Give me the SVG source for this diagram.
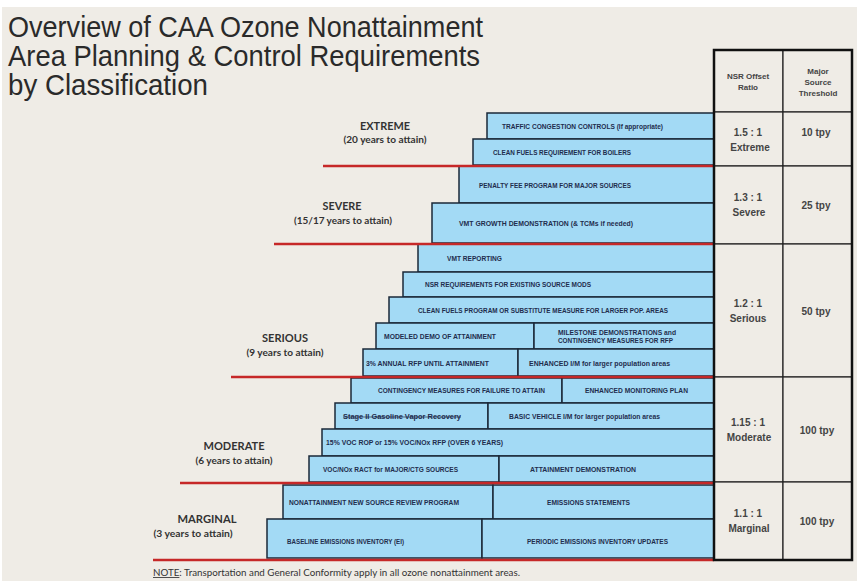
<svg xmlns="http://www.w3.org/2000/svg" width="857" height="581" viewBox="0 0 857 581">
<style>
.bg{fill:#efece6}
.blk{fill:#a3daf5;stroke:#1b2838;stroke-width:1.5}
.bt{font-family:"Liberation Sans",Arial,sans-serif;font-weight:bold;font-size:7px;fill:#1f2d4d}
.red{stroke:#c62828;stroke-width:2.5;fill:none}
.lab{font-family:Lato,"Liberation Sans",sans-serif;font-weight:bold;fill:#333;text-anchor:middle}
.l1{font-size:11px}
.l2{font-size:8.5px}
.title{font-family:"Liberation Sans",Arial,sans-serif;font-size:29px;fill:#2a2a2a}
.cell{fill:#efece6;stroke:#222;stroke-width:1.2}
.tt{font-family:"Liberation Sans",Arial,sans-serif;font-weight:bold;fill:#444;text-anchor:middle}
.th{font-size:8px}
.tv{font-size:10px}
.note{font-family:Lato,"Liberation Sans",sans-serif;font-size:8.5px;fill:#333}
</style>
<rect width="857" height="581" fill="#ffffff"/>
<rect class="bg" x="2" y="7" width="855" height="574"/>

<g id="title">
<text class="title" x="8" y="37" textLength="475" lengthAdjust="spacingAndGlyphs">Overview of CAA Ozone Nonattainment</text>
<text class="title" x="8" y="66" textLength="472" lengthAdjust="spacingAndGlyphs">Area Planning &amp; Control Requirements</text>
<text class="title" x="8" y="95" textLength="200" lengthAdjust="spacingAndGlyphs">by Classification</text>
</g>

<g id="label-extreme">
<text class="lab l1" x="385" y="130" textLength="50" lengthAdjust="spacingAndGlyphs">EXTREME</text>
<text class="lab l2" x="385" y="143" textLength="83" lengthAdjust="spacingAndGlyphs">(20 years to attain)</text>
</g>
<g id="label-severe">
<text class="lab l1" x="342" y="210" textLength="39" lengthAdjust="spacingAndGlyphs">SEVERE</text>
<text class="lab l2" x="343" y="224" textLength="98" lengthAdjust="spacingAndGlyphs">(15/17 years to attain)</text>
</g>
<g id="label-serious">
<text class="lab l1" x="285" y="342" textLength="46" lengthAdjust="spacingAndGlyphs">SERIOUS</text>
<text class="lab l2" x="285" y="356" textLength="77" lengthAdjust="spacingAndGlyphs">(9 years to attain)</text>
</g>
<g id="label-moderate">
<text class="lab l1" x="234" y="450" textLength="61" lengthAdjust="spacingAndGlyphs">MODERATE</text>
<text class="lab l2" x="234" y="464" textLength="77" lengthAdjust="spacingAndGlyphs">(6 years to attain)</text>
</g>
<g id="label-marginal">
<text class="lab l1" x="207" y="523" textLength="59" lengthAdjust="spacingAndGlyphs">MARGINAL</text>
<text class="lab l2" x="193" y="537" textLength="79" lengthAdjust="spacingAndGlyphs">(3 years to attain)</text>
</g>

<!-- Extreme -->
<g id="n-traffic">
<rect class="blk" x="487" y="113" width="227" height="26"/>
<text class="bt" x="502" y="128.5" textLength="161" lengthAdjust="spacingAndGlyphs">TRAFFIC CONGESTION CONTROLS (If appropriate)</text>
</g>
<g id="n-cleanfuels-boilers">
<rect class="blk" x="473" y="139" width="241" height="26"/>
<text class="bt" x="493" y="154.5" textLength="138" lengthAdjust="spacingAndGlyphs">CLEAN FUELS REQUIREMENT FOR BOILERS</text>
</g>
<!-- Severe -->
<g id="n-penalty">
<rect class="blk" x="459" y="166" width="255" height="37"/>
<text class="bt" x="479" y="187.5" textLength="152" lengthAdjust="spacingAndGlyphs">PENALTY FEE PROGRAM FOR MAJOR SOURCES</text>
</g>
<g id="n-vmt-growth">
<rect class="blk" x="432" y="203" width="282" height="40"/>
<text class="bt" x="459" y="225.5" textLength="174" lengthAdjust="spacingAndGlyphs">VMT GROWTH DEMONSTRATION (&amp; TCMs if needed)</text>
</g>
<!-- Serious -->
<g id="n-vmt-reporting">
<rect class="blk" x="418" y="244" width="296" height="28"/>
<text class="bt" x="447" y="260.5" textLength="55" lengthAdjust="spacingAndGlyphs">VMT REPORTING</text>
</g>
<g id="n-nsr-req">
<rect class="blk" x="403" y="272" width="311" height="25"/>
<text class="bt" x="425" y="286.5" textLength="166" lengthAdjust="spacingAndGlyphs">NSR REQUIREMENTS FOR EXISTING SOURCE MODS</text>
</g>
<g id="n-cleanfuels-program">
<rect class="blk" x="389" y="297" width="325" height="26"/>
<text class="bt" x="418" y="312.5" textLength="250" lengthAdjust="spacingAndGlyphs">CLEAN FUELS PROGRAM OR SUBSTITUTE MEASURE FOR LARGER POP. AREAS</text>
</g>
<g id="n-modeled-demo">
<rect class="blk" x="376" y="323" width="158" height="26"/>
<text class="bt" x="384" y="338.5" textLength="112" lengthAdjust="spacingAndGlyphs">MODELED DEMO OF ATTAINMENT</text>
</g>
<g id="n-milestone">
<rect class="blk" x="534" y="323" width="180" height="26"/>
<text class="bt" x="558" y="334.5" textLength="118" lengthAdjust="spacingAndGlyphs">MILESTONE DEMONSTRATIONS and</text>
<text class="bt" x="558" y="342.5" textLength="115" lengthAdjust="spacingAndGlyphs">CONTINGENCY MEASURES FOR RFP</text>
</g>
<g id="n-rfp3">
<rect class="blk" x="363" y="349" width="155" height="27"/>
<text class="bt" x="366" y="365.5" textLength="123" lengthAdjust="spacingAndGlyphs">3% ANNUAL RFP UNTIL ATTAINMENT</text>
</g>
<g id="n-enhanced-im">
<rect class="blk" x="518" y="349" width="196" height="27"/>
<text class="bt" x="529" y="365.5" textLength="141" lengthAdjust="spacingAndGlyphs">ENHANCED I/M for larger population areas</text>
</g>
<!-- Moderate -->
<g id="n-contingency">
<rect class="blk" x="351" y="378" width="211" height="25"/>
<text class="bt" x="378" y="392.5" textLength="167" lengthAdjust="spacingAndGlyphs">CONTINGENCY MEASURES FOR FAILURE TO ATTAIN</text>
</g>
<g id="n-monitoring">
<rect class="blk" x="562" y="378" width="152" height="25"/>
<text class="bt" x="585" y="392.5" textLength="103" lengthAdjust="spacingAndGlyphs">ENHANCED MONITORING PLAN</text>
</g>
<g id="n-stage2">
<rect class="blk" x="335" y="403" width="153" height="26"/>
<text class="bt" x="343" y="419" textLength="118" lengthAdjust="spacingAndGlyphs" text-decoration="line-through">Stage II Gasoline Vapor Recovery</text>
</g>
<g id="n-basic-im">
<rect class="blk" x="488" y="403" width="226" height="26"/>
<text class="bt" x="509" y="418.5" textLength="151" lengthAdjust="spacingAndGlyphs">BASIC VEHICLE I/M for larger population areas</text>
</g>
<g id="n-voc-rop">
<rect class="blk" x="322" y="429" width="392" height="27"/>
<text class="bt" x="326" y="444.5" textLength="177" lengthAdjust="spacingAndGlyphs">15% VOC ROP or 15% VOC/NOx RFP (OVER 6 YEARS)</text>
</g>
<g id="n-ract">
<rect class="blk" x="309" y="456" width="190" height="26"/>
<text class="bt" x="323" y="471.5" textLength="135" lengthAdjust="spacingAndGlyphs">VOC/NOx RACT for MAJOR/CTG SOURCES</text>
</g>
<g id="n-attain-demo">
<rect class="blk" x="499" y="456" width="215" height="26"/>
<text class="bt" x="530" y="471.5" textLength="106" lengthAdjust="spacingAndGlyphs">ATTAINMENT DEMONSTRATION</text>
</g>
<!-- Marginal -->
<g id="n-nnsr">
<rect class="blk" x="283" y="485" width="210" height="34"/>
<text class="bt" x="289" y="504.5" textLength="170" lengthAdjust="spacingAndGlyphs">NONATTAINMENT  NEW SOURCE REVIEW PROGRAM</text>
</g>
<g id="n-emis-stmt">
<rect class="blk" x="493" y="485" width="221" height="34"/>
<text class="bt" x="547" y="504.5" textLength="83" lengthAdjust="spacingAndGlyphs">EMISSIONS STATEMENTS</text>
</g>
<g id="n-baseline">
<rect class="blk" x="267" y="519" width="215" height="39"/>
<text class="bt" x="287" y="543.5" textLength="117" lengthAdjust="spacingAndGlyphs">BASELINE EMISSIONS INVENTORY (EI)</text>
</g>
<g id="n-periodic">
<rect class="blk" x="482" y="519" width="232" height="39"/>
<text class="bt" x="527" y="543.5" textLength="141" lengthAdjust="spacingAndGlyphs">PERIODIC EMISSIONS INVENTORY UPDATES</text>
</g>

<g id="connectors">
<line class="red" x1="323" y1="166" x2="714" y2="166"/>
<line class="red" x1="274" y1="244" x2="714" y2="244"/>
<line class="red" x1="231" y1="377" x2="714" y2="377"/>
<line class="red" x1="180" y1="483" x2="714" y2="483"/>
<line class="red" x1="153" y1="560" x2="714" y2="560"/>
</g>

<g id="table">
<rect class="cell" x="714" y="50" width="69" height="62"/>
<rect class="cell" x="783" y="50" width="69" height="62"/>
<rect class="cell" x="714" y="112" width="69" height="54"/>
<rect class="cell" x="783" y="112" width="69" height="54"/>
<rect class="cell" x="714" y="166" width="69" height="78"/>
<rect class="cell" x="783" y="166" width="69" height="78"/>
<rect class="cell" x="714" y="244" width="69" height="133"/>
<rect class="cell" x="783" y="244" width="69" height="133"/>
<rect class="cell" x="714" y="377" width="69" height="105"/>
<rect class="cell" x="783" y="377" width="69" height="105"/>
<rect class="cell" x="714" y="482" width="69" height="78"/>
<rect class="cell" x="783" y="482" width="69" height="78"/>
<rect x="714" y="50" width="138" height="510" fill="none" stroke="#111" stroke-width="2.5"/>
<text class="tt th" x="748" y="79">NSR Offset</text>
<text class="tt th" x="748" y="90">Ratio</text>
<text class="tt th" x="818" y="74">Major</text>
<text class="tt th" x="818" y="85">Source</text>
<text class="tt th" x="818" y="96">Threshold</text>
<text class="tt tv" x="748" y="136">1.5 : 1</text>
<text class="tt tv" x="750" y="151">Extreme</text>
<text class="tt tv" x="816" y="136">10 tpy</text>
<text class="tt tv" x="748" y="201">1.3 : 1</text>
<text class="tt tv" x="749" y="216">Severe</text>
<text class="tt tv" x="816" y="209">25 tpy</text>
<text class="tt tv" x="748" y="307">1.2 : 1</text>
<text class="tt tv" x="748" y="322">Serious</text>
<text class="tt tv" x="816" y="315">50 tpy</text>
<text class="tt tv" x="748" y="426">1.15 : 1</text>
<text class="tt tv" x="749" y="441">Moderate</text>
<text class="tt tv" x="817" y="434">100 tpy</text>
<text class="tt tv" x="748" y="517">1.1 : 1</text>
<text class="tt tv" x="749" y="532">Marginal</text>
<text class="tt tv" x="817" y="525">100 tpy</text>
</g>

<g id="note">
<text class="note" x="153" y="576" textLength="367" lengthAdjust="spacingAndGlyphs"><tspan text-decoration="underline">NOTE</tspan>: Transportation and General Conformity apply in all ozone nonattainment areas.</text>
</g>
</svg>
